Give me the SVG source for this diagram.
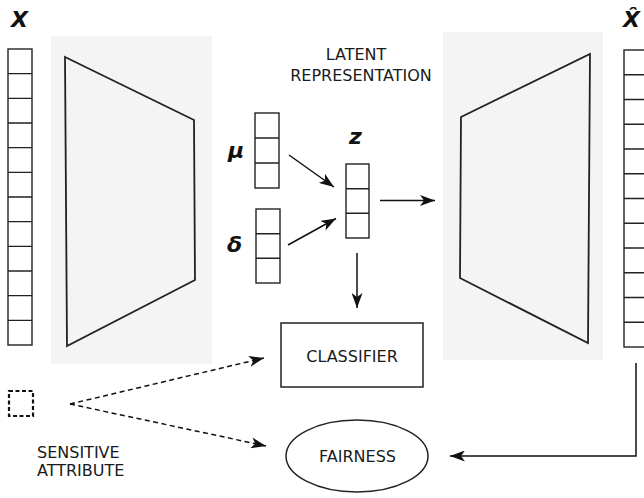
<svg xmlns="http://www.w3.org/2000/svg" width="644" height="498" viewBox="0 0 644 498">
  <style>
    .cell { fill: #ffffff; stroke: #222222; stroke-width: 1.4; }
    .div { fill: none; stroke: #222222; stroke-width: 1.4; }
    .panel { fill: #f4f4f4; stroke: none; }
    .trap { fill: none; stroke: #222222; stroke-width: 1.8; stroke-linejoin: miter; }
    .box { fill: #ffffff; stroke: #222222; stroke-width: 1.5; }
    .lbl { font-family: "DejaVu Sans", "Liberation Sans", sans-serif; font-size: 16px; fill: #1a1a1a; }
    .sym { font-family: "DejaVu Sans", "Liberation Sans", sans-serif; font-weight: bold; font-style: italic; fill: #111111; }
    .conn { fill: none; stroke: #111111; stroke-width: 1.5; }
    .dash { fill: none; stroke: #111111; stroke-width: 1.5; stroke-dasharray: 5 3.5; }
  </style>
  <defs>
    <marker id="head" viewBox="0 0 15 11" refX="15" refY="5.5" markerWidth="15" markerHeight="11" markerUnits="userSpaceOnUse" orient="auto">
      <path d="M0,0 L15,5.5 L0,11 L4,5.5 z" fill="#111111"/>
    </marker>
  </defs>

  <!-- input vector X -->
  <g id="input-x">
    <text class="sym" x="11" y="27" font-size="22">X</text>
    <rect class="cell" x="8" y="49" width="24" height="296"/>
    <path class="div" d="M8,73.67H32 M8,98.33H32 M8,123H32 M8,147.67H32 M8,172.33H32 M8,197H32 M8,221.67H32 M8,246.33H32 M8,271H32 M8,295.67H32 M8,320.33H32"/>
  </g>

  <!-- encoder -->
  <g id="encoder">
    <rect class="panel" x="51" y="36" width="161" height="328"/>
    <path class="trap" d="M65,57 L194,120 L195,280 L67,346 Z"/>
  </g>

  <!-- latent representation -->
  <g id="latent-label">
    <text class="lbl" x="356" y="60" text-anchor="middle">LATENT</text>
    <text class="lbl" x="361" y="81" text-anchor="middle">REPRESENTATION</text>
  </g>

  <g id="mu">
    <text class="sym" x="228" y="158" font-size="22">μ</text>
    <rect class="cell" x="255" y="113" width="24" height="75"/>
    <path class="div" d="M255,138H279 M255,163H279"/>
  </g>

  <g id="delta">
    <text class="sym" x="227" y="252" font-size="22">δ</text>
    <rect class="cell" x="256" y="209" width="24" height="74"/>
    <path class="div" d="M256,233.7H280 M256,258.3H280"/>
  </g>

  <g id="z">
    <text class="sym" x="349" y="144" font-size="22">z</text>
    <rect class="cell" x="346" y="164" width="23" height="74"/>
    <path class="div" d="M346,188.7H369 M346,213.3H369"/>
  </g>

  <!-- decoder -->
  <g id="decoder">
    <rect class="panel" x="443" y="32" width="160" height="328"/>
    <path class="trap" d="M461,117 L590,54 L588,343 L460,278 Z"/>
  </g>

  <!-- reconstruction X-hat -->
  <g id="output-xhat">
    <text class="sym" x="623" y="27" font-size="22">X̂</text>
    <rect class="cell" x="624" y="50" width="24" height="297"/>
    <path class="div" d="M624,74.75H648 M624,99.5H648 M624,124.25H648 M624,149H648 M624,173.75H648 M624,198.5H648 M624,223.25H648 M624,248H648 M624,272.75H648 M624,297.5H648 M624,322.25H648"/>
  </g>

  <g id="classifier">
    <rect class="box" x="281" y="323" width="142" height="64"/>
    <text class="lbl" x="352" y="361.5" text-anchor="middle">CLASSIFIER</text>
  </g>

  <g id="fairness">
    <ellipse class="box" cx="357" cy="456" rx="71" ry="36"/>
    <text class="lbl" x="357.5" y="461.5" text-anchor="middle">FAIRNESS</text>
  </g>

  <g id="sensitive-attribute">
    <rect x="9" y="391" width="24" height="25" fill="none" stroke="#111111" stroke-width="2.2" stroke-dasharray="4 2.5"/>
    <text class="lbl" x="37" y="458">SENSITIVE</text>
    <text class="lbl" x="37" y="476">ATTRIBUTE</text>
  </g>

  <!-- connectors -->
  <g id="connectors">
    <line class="conn" x1="289" y1="155" x2="334" y2="187" marker-end="url(#head)"/>
    <line class="conn" x1="288" y1="245" x2="336" y2="218.5" marker-end="url(#head)"/>
    <line class="conn" x1="380" y1="200.5" x2="435" y2="200.5" marker-end="url(#head)"/>
    <line class="conn" x1="357" y1="253" x2="357" y2="308" marker-end="url(#head)"/>
    <polyline class="conn" points="636,363 636,456 450,456" marker-end="url(#head)"/>
    <line class="dash" x1="70" y1="404" x2="264" y2="358" marker-end="url(#head)"/>
    <line class="dash" x1="70" y1="404" x2="266" y2="446" marker-end="url(#head)"/>
  </g>
</svg>
